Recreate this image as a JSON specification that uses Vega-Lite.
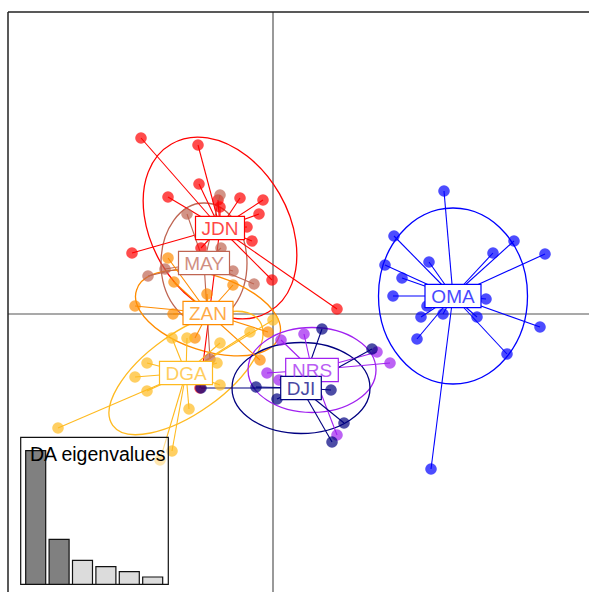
{
  "$schema": "https://vega.github.io/schema/vega-lite/v6.json",
  "width": 581,
  "height": 580,
  "autosize": {"type": "none"},
  "padding": {"left": 8, "top": 12, "right": 0, "bottom": 0},
  "background": "white",
  "config": {"view": {"stroke": null}, "font": "Liberation Sans"},
  "datasets": {
    "individuals": [
      {"group": "JDN", "ld1": -2.64, "ld2": 3.52}, {"group": "JDN", "ld1": -1.50, "ld2": 3.38},
      {"group": "JDN", "ld1": -1.48, "ld2": 2.60}, {"group": "JDN", "ld1": -2.10, "ld2": 2.34},
      {"group": "JDN", "ld1": -1.10, "ld2": 2.28}, {"group": "JDN", "ld1": -1.06, "ld2": 2.14},
      {"group": "JDN", "ld1": -0.66, "ld2": 2.32}, {"group": "JDN", "ld1": -0.20, "ld2": 2.28},
      {"group": "JDN", "ld1": -0.28, "ld2": 2.00}, {"group": "JDN", "ld1": -0.52, "ld2": 1.74},
      {"group": "JDN", "ld1": -0.42, "ld2": 1.46}, {"group": "JDN", "ld1": -2.82, "ld2": 1.22},
      {"group": "JDN", "ld1": -0.02, "ld2": 0.68}, {"group": "JDN", "ld1": 1.28, "ld2": 0.10},
      {"group": "JDN", "ld1": -1.46, "ld2": -1.48}, {"group": "JDN", "ld1": -1.44, "ld2": 1.32},
      {"group": "MAY", "ld1": -1.06, "ld2": 2.38}, {"group": "MAY", "ld1": -1.72, "ld2": 2.00},
      {"group": "MAY", "ld1": -1.04, "ld2": 1.32}, {"group": "MAY", "ld1": -0.80, "ld2": 0.86},
      {"group": "MAY", "ld1": -0.38, "ld2": 0.60}, {"group": "MAY", "ld1": -2.50, "ld2": 0.76},
      {"group": "MAY", "ld1": -2.16, "ld2": 0.90}, {"group": "MAY", "ld1": -1.26, "ld2": -0.90},
      {"group": "ZAN", "ld1": -2.10, "ld2": 1.12}, {"group": "ZAN", "ld1": -1.98, "ld2": 0.64},
      {"group": "ZAN", "ld1": -1.32, "ld2": 0.40}, {"group": "ZAN", "ld1": -0.80, "ld2": 0.58},
      {"group": "ZAN", "ld1": -2.76, "ld2": 0.16}, {"group": "ZAN", "ld1": -2.00, "ld2": 0.00},
      {"group": "ZAN", "ld1": -0.10, "ld2": -0.36}, {"group": "ZAN", "ld1": -1.56, "ld2": -0.48},
      {"group": "ZAN", "ld1": -0.26, "ld2": -0.92},
      {"group": "DGA", "ld1": -4.30, "ld2": -2.28}, {"group": "DGA", "ld1": -2.52, "ld2": -0.98},
      {"group": "DGA", "ld1": -2.76, "ld2": -1.26}, {"group": "DGA", "ld1": -2.52, "ld2": -1.54},
      {"group": "DGA", "ld1": -2.02, "ld2": -0.48}, {"group": "DGA", "ld1": -1.72, "ld2": -0.48},
      {"group": "DGA", "ld1": -1.06, "ld2": -0.58}, {"group": "DGA", "ld1": -1.12, "ld2": -0.98},
      {"group": "DGA", "ld1": -1.06, "ld2": -1.42}, {"group": "DGA", "ld1": -1.68, "ld2": -1.90},
      {"group": "DGA", "ld1": -2.02, "ld2": -2.74}, {"group": "DGA", "ld1": -2.26, "ld2": -2.92},
      {"group": "DGA", "ld1": 0.00, "ld2": -0.12}, {"group": "DGA", "ld1": -0.46, "ld2": -0.36},
      {"group": "NRS", "ld1": 0.62, "ld2": -0.40}, {"group": "NRS", "ld1": 0.16, "ld2": -0.52},
      {"group": "NRS", "ld1": -0.12, "ld2": -1.18}, {"group": "NRS", "ld1": 2.08, "ld2": -0.76},
      {"group": "NRS", "ld1": 2.34, "ld2": -0.98}, {"group": "NRS", "ld1": 0.12, "ld2": -1.32},
      {"group": "NRS", "ld1": 1.28, "ld2": -2.42},
      {"group": "DJI", "ld1": 0.98, "ld2": -0.30}, {"group": "DJI", "ld1": 1.98, "ld2": -0.70},
      {"group": "DJI", "ld1": -0.34, "ld2": -1.46}, {"group": "DJI", "ld1": 0.08, "ld2": -1.70},
      {"group": "DJI", "ld1": 1.16, "ld2": -1.52}, {"group": "DJI", "ld1": 1.42, "ld2": -2.18},
      {"group": "DJI", "ld1": 1.18, "ld2": -2.56}, {"group": "DJI", "ld1": -1.44, "ld2": -1.48},
      {"group": "OMA", "ld1": 3.42, "ld2": 2.46}, {"group": "OMA", "ld1": 2.42, "ld2": 1.56},
      {"group": "OMA", "ld1": 2.24, "ld2": 0.98}, {"group": "OMA", "ld1": 2.58, "ld2": 0.72},
      {"group": "OMA", "ld1": 3.12, "ld2": 1.04}, {"group": "OMA", "ld1": 2.40, "ld2": 0.36},
      {"group": "OMA", "ld1": 4.40, "ld2": 1.22}, {"group": "OMA", "ld1": 4.82, "ld2": 1.46},
      {"group": "OMA", "ld1": 5.44, "ld2": 1.20}, {"group": "OMA", "ld1": 4.26, "ld2": 0.30},
      {"group": "OMA", "ld1": 2.96, "ld2": -0.06}, {"group": "OMA", "ld1": 3.40, "ld2": 0.00},
      {"group": "OMA", "ld1": 4.08, "ld2": -0.06}, {"group": "OMA", "ld1": 5.34, "ld2": -0.26},
      {"group": "OMA", "ld1": 2.88, "ld2": -0.50}, {"group": "OMA", "ld1": 4.68, "ld2": -0.80},
      {"group": "OMA", "ld1": 3.16, "ld2": -3.10}, {"group": "OMA", "ld1": 3.08, "ld2": 0.16}
    ],
    "groups": [
      {"group": "JDN", "ld1": -1.06, "ld2": 1.72},
      {"group": "MAY", "ld1": -1.38, "ld2": 1.02},
      {"group": "ZAN", "ld1": -1.30, "ld2": 0.02},
      {"group": "DGA", "ld1": -1.74, "ld2": -1.18},
      {"group": "NRS", "ld1": 0.78, "ld2": -1.12},
      {"group": "DJI", "ld1": 0.56, "ld2": -1.48},
      {"group": "OMA", "ld1": 3.60, "ld2": 0.36}
    ],
    "eigen": [
      {"axis": 1, "eigenvalue": 1336, "kept": "yes"},
      {"axis": 2, "eigenvalue": 450, "kept": "yes"},
      {"axis": 3, "eigenvalue": 240, "kept": "no"},
      {"axis": 4, "eigenvalue": 176, "kept": "no"},
      {"axis": 5, "eigenvalue": 126, "kept": "no"},
      {"axis": 6, "eigenvalue": 73, "kept": "no"}
    ],
    "frame": [{"side": "left"}]
  },
  "layer": [
    {
      "layer": [
        {
          "data": {"name": "frame"},
          "mark": {"type": "rule", "color": "#555555", "strokeWidth": 1.2},
          "encoding": {
            "x": {"datum": 0, "type": "quantitative", "scale": {"domain": [-5.3, 6.32], "nice": false, "zero": false}, "axis": null},
            "y": {"datum": -5.56, "type": "quantitative", "scale": {"domain": [-5.56, 6.04], "nice": false, "zero": false}, "axis": null},
            "y2": {"datum": 6.04}
          }
        },
        {
          "data": {"name": "frame"},
          "mark": {"type": "rule", "color": "#555555", "strokeWidth": 1.2},
          "encoding": {
            "y": {"datum": 0, "type": "quantitative"},
            "x": {"datum": -5.3, "type": "quantitative"},
            "x2": {"datum": 6.32}
          }
        },
        {
          "data": {"name": "frame"},
          "mark": {"type": "rule", "color": "#222222", "strokeWidth": 1.5},
          "encoding": {
            "x": {"datum": -5.3, "type": "quantitative"},
            "y": {"datum": -5.56, "type": "quantitative"},
            "y2": {"datum": 6.04}
          }
        },
        {
          "data": {"name": "frame"},
          "mark": {"type": "rule", "color": "#222222", "strokeWidth": 1.5},
          "encoding": {
            "y": {"datum": 6.04, "type": "quantitative"},
            "x": {"datum": -5.3, "type": "quantitative"},
            "x2": {"datum": 6.32}
          }
        },
        {
          "data": {"name": "groups"},
          "mark": {"type": "point", "filled": false, "opacity": 1, "strokeWidth": 1.3, "size": 4},
          "encoding": {
            "x": {"field": "ld1", "type": "quantitative"},
            "y": {"field": "ld2", "type": "quantitative"},
            "color": {"field": "group", "type": "nominal", "legend": null,
              "scale": {"domain": ["JDN", "MAY", "ZAN", "DGA", "NRS", "DJI", "OMA"],
                        "range": ["#FF0000", "#BF6552", "#FF8C00", "#FFBA20", "#A020F0", "#000080", "#0000FF"]}},
            "shape": {"field": "group", "type": "nominal", "legend": null,
              "scale": {"domain": ["JDN", "MAY", "ZAN", "DGA", "NRS", "DJI", "OMA"],
                        "range": [
                          "M 48.5 84 A 97 68 60 1 0 -48.5 -84 A 97 68 60 1 0 48.5 84 Z",
                          "M 43 0 A 43 60 0 1 0 -43 0 A 43 60 0 1 0 43 0 Z",
                          "M 71.3 23.2 A 75 37 18 1 0 -71.3 -23.2 A 75 37 18 1 0 71.3 23.2 Z",
                          "M 73.3 -52.3 A 90 40 -35.5 1 0 -73.3 52.3 A 90 40 -35.5 1 0 73.3 -52.3 Z",
                          "M 64 0 A 64 42.5 0 1 0 -64 0 A 64 42.5 0 1 0 64 0 Z",
                          "M 69 0 A 69 45.5 0 1 0 -69 0 A 69 45.5 0 1 0 69 0 Z",
                          "M 74.5 0 A 74.5 88 0 1 0 -74.5 0 A 74.5 88 0 1 0 74.5 0 Z"
                        ]}}
          }
        },
        {
          "data": {"name": "individuals"},
          "transform": [
            {"lookup": "group", "from": {"data": {"name": "groups"}, "key": "group", "fields": ["ld1", "ld2"]}, "as": ["c1", "c2"]}
          ],
          "mark": {"type": "rule", "strokeWidth": 1.1},
          "encoding": {
            "x": {"field": "ld1", "type": "quantitative"},
            "y": {"field": "ld2", "type": "quantitative"},
            "x2": {"field": "c1"},
            "y2": {"field": "c2"},
            "color": {"field": "group", "type": "nominal", "legend": null}
          }
        },
        {
          "data": {"name": "individuals"},
          "mark": {"type": "circle", "opacity": 0.7, "size": 135},
          "encoding": {
            "x": {"field": "ld1", "type": "quantitative"},
            "y": {"field": "ld2", "type": "quantitative"},
            "color": {"field": "group", "type": "nominal", "legend": null}
          }
        },
        {
          "data": {"name": "groups"},
          "mark": {"type": "point", "filled": false, "fill": "white", "fillOpacity": 1, "opacity": 1, "strokeWidth": 1.2, "size": 4},
          "encoding": {
            "x": {"field": "ld1", "type": "quantitative"},
            "y": {"field": "ld2", "type": "quantitative"},
            "color": {"field": "group", "type": "nominal", "legend": null},
            "shape": {"field": "group", "type": "nominal", "legend": null,
              "scale": {"domain": ["JDN", "MAY", "ZAN", "DGA", "NRS", "DJI", "OMA"],
                        "range": [
                          "M -24.5 -11.7 H 24.5 V 11.7 H -24.5 Z",
                          "M -25.5 -11.7 H 25.5 V 11.7 H -25.5 Z",
                          "M -25 -11.7 H 25 V 11.7 H -25 Z",
                          "M -26.5 -11.7 H 26.5 V 11.7 H -26.5 Z",
                          "M -26.3 -11.7 H 26.3 V 11.7 H -26.3 Z",
                          "M -20.3 -11.7 H 20.3 V 11.7 H -20.3 Z",
                          "M -28 -11.7 H 28 V 11.7 H -28 Z"
                        ]}}
          }
        },
        {
          "data": {"name": "groups"},
          "mark": {"type": "text", "fontSize": 19, "font": "Liberation Sans", "align": "center", "baseline": "middle", "dy": 1, "opacity": 0.72},
          "encoding": {
            "x": {"field": "ld1", "type": "quantitative"},
            "y": {"field": "ld2", "type": "quantitative"},
            "text": {"field": "group"},
            "color": {"field": "group", "type": "nominal", "legend": null}
          }
        }
      ],
      "resolve": {"scale": {"shape": "independent"}}
    },
    {
      "layer": [
        {
          "data": {"name": "frame"},
          "mark": {"type": "rect", "fill": "white", "fillOpacity": 0.5, "stroke": "#111111", "strokeWidth": 1.2},
          "encoding": {
            "x": {"datum": 0.359, "type": "quantitative", "scale": {"domain": [0.359, 6.667], "range": [12.7, 160.3], "nice": false, "zero": false, "padding": 0}, "axis": null},
            "x2": {"datum": 6.667},
            "y": {"datum": 0, "type": "quantitative", "scale": {"domain": [0, 1470], "range": [572.3, 425.3], "nice": false, "zero": false, "padding": 0}, "axis": null},
            "y2": {"datum": 1470}
          }
        },
        {
          "data": {"name": "eigen"},
          "mark": {"type": "bar", "width": 20, "stroke": "#111111", "strokeWidth": 1.2},
          "encoding": {
            "x": {"field": "axis", "type": "quantitative"},
            "y": {"field": "eigenvalue", "type": "quantitative"},
            "color": {"field": "kept", "type": "nominal", "legend": null,
              "scale": {"domain": ["yes", "no"], "range": ["#808080", "#DCDCDC"]}}
          }
        },
        {
          "data": {"name": "frame"},
          "mark": {"type": "text", "text": "DA eigenvalues", "fontSize": 19.5, "font": "Liberation Sans", "align": "left", "baseline": "alphabetic", "color": "black"},
          "encoding": {
            "x": {"datum": 0.756, "type": "quantitative"},
            "y": {"datum": 1233, "type": "quantitative"}
          }
        }
      ]
    }
  ],
  "resolve": {"scale": {"x": "independent", "y": "independent", "color": "independent"}}
}
